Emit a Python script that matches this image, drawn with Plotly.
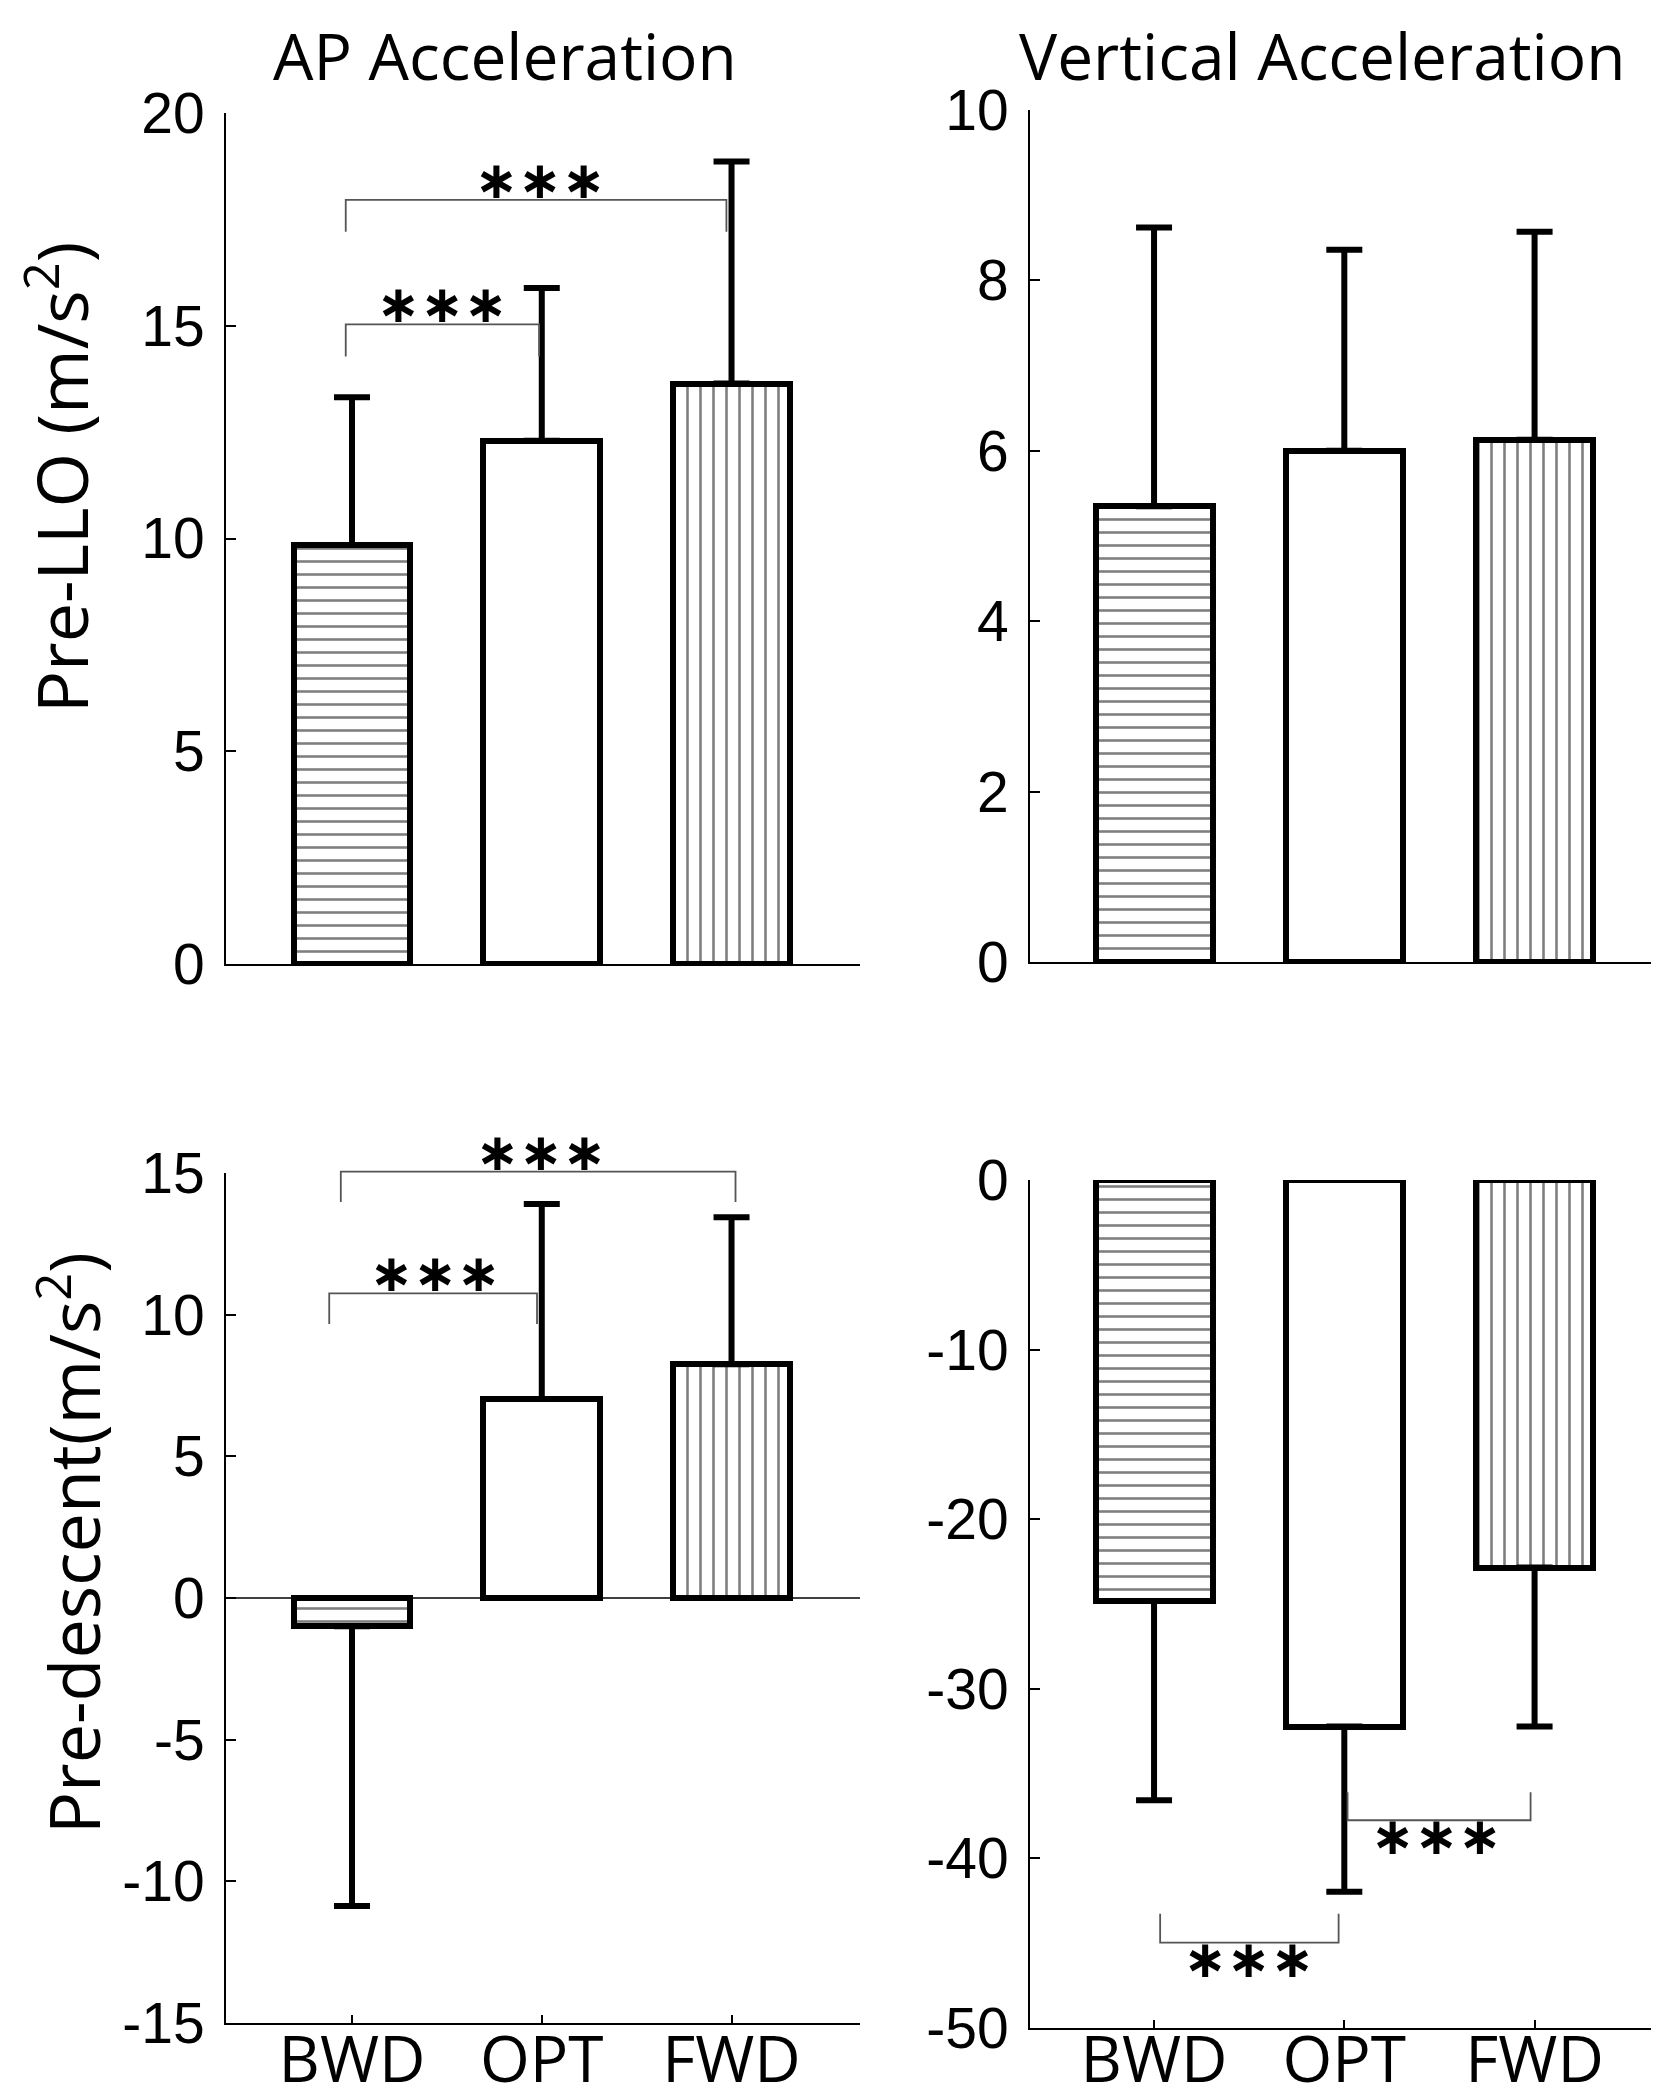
import plotly.graph_objects as go
from plotly.subplots import make_subplots

# ---------------- data ----------------
categories = ["BWD", "OPT", "FWD"]
cat_pos = [1, 2, 3]

ap_llo_mean = [9.85, 12.30, 13.64]
ap_llo_sd = [3.47, 3.59, 5.22]

vert_llo_mean = [5.35, 6.00, 6.13]
vert_llo_sd = [3.27, 2.36, 2.44]

ap_desc_mean = [-1.00, 7.02, 8.25]
ap_desc_sd = [9.87, 6.89, 5.19]

vert_desc_mean = [-24.82, -32.23, -22.85]
vert_desc_sd = [11.75, 9.74, 9.38]

# significance brackets: (x_start, x_end, line_y, left_drop_y, right_drop_y, star_x, star_y)
ap_llo_brackets = [
    (0.967, 2.973, 17.96, 17.21, 17.21, 1.99, 18.30),
    (0.967, 1.986, 15.03, 14.28, 14.28, 1.474, 15.40),
]
ap_desc_brackets = [
    (0.941, 3.021, 15.05, 13.98, 13.98, 1.995, 15.55),
    (0.880, 1.975, 10.75, 9.67, 9.67, 1.437, 11.30),
]
vert_desc_brackets = [
    (2.017, 2.979, -37.75, -36.1, -36.1, 2.483, -38.95),
    (1.032, 1.970, -44.97, -43.27, -43.27, 1.497, -46.2),
]
vert_llo_brackets = []

# y tick values per panel
ap_llo_ticks = [0, 5, 10, 15, 20]
vert_llo_ticks = [0, 2, 4, 6, 8, 10]
ap_desc_ticks = [-15, -10, -5, 0, 5, 10, 15]
vert_desc_ticks = [-50, -40, -30, -20, -10, 0]

star_text = "\u2217\u2217\u2217"
patterns = ["-", "", "|"]

W, H = 1659, 2100
xl = [218 / W, 852 / W]
xr = [1022 / W, 1.0]
xrange_l = [0.336, 3.677]
xrange_r = [0.348, 3.696]

panels = [
    # row, col, means, sds, brackets, xdomain, xrange, ydomain, yrange, ticks, label standoff
    (1, 1, ap_llo_mean, ap_llo_sd, ap_llo_brackets, xl, xrange_l,
     [1 - 956 / H, 1 - 105 / H], [0, 20], ap_llo_ticks, 0),
    (1, 2, vert_llo_mean, vert_llo_sd, vert_llo_brackets, xr, xrange_r,
     [1 - 954 / H, 1 - 102 / H], [0, 10], vert_llo_ticks, 0),
    (2, 1, ap_desc_mean, ap_desc_sd, ap_desc_brackets, xl, xrange_l,
     [1 - 2015 / H, 1 - 1165 / H], [-15, 15], ap_desc_ticks, -20),
    (2, 2, vert_desc_mean, vert_desc_sd, vert_desc_brackets, xr, xrange_r,
     [1 - 2020 / H, 1 - 1172 / H], [-50, 0], vert_desc_ticks, -25),
]

fig = make_subplots(rows=2, cols=2)

tickfont = dict(family="Liberation Sans, Arial", size=57, color="black")
catfont = dict(family="Open Sans", size=64, color="black")

layout_axes = {}
EXTRA = 70  # px of unclipped room for the significance brackets

for i, (r, c, means, sds, brackets, xdom, xrng, ydom, yrng, yt, lstand) in enumerate(panels):
    k = i + 1
    sfx = "" if k == 1 else str(k)
    up = [s if m >= 0 else 0 for m, s in zip(means, sds)]
    down = [s if m < 0 else 0 for m, s in zip(means, sds)]
    fig.add_trace(go.Bar(
        x=cat_pos, y=means, width=0.615,
        marker=dict(color="white",
                    line=dict(color="black", width=6),
                    pattern=dict(shape=patterns, size=13, solidity=0.2,
                                 fgcolor="#000000", bgcolor="white")),
        error_y=dict(type="data", symmetric=False, array=up, arrayminus=down,
                     color="black", thickness=6, width=18),
        showlegend=False, hoverinfo="skip"), row=r, col=c)

    ax = dict(domain=xdom, range=xrng, anchor=f"y{sfx}", showline=True,
              linecolor="black", linewidth=2,
              showgrid=False, zeroline=False, automargin=False)
    if r == 2:
        ax.update(tickvals=cat_pos, ticktext=categories, ticks="inside", ticklen=8,
                  tickwidth=2, tickcolor="black", tickfont=catfont,
                  ticklabelstandoff=lstand)
    else:
        ax.update(showticklabels=False, ticks="")
    layout_axes[f"xaxis{sfx}"] = ax
    layout_axes[f"yaxis{sfx}"] = dict(
        domain=ydom, range=yrng, anchor=f"x{sfx}", tickvals=yt,
        ticktext=[str(t) for t in yt],
        showline=True, linecolor="black", linewidth=2,
        ticks="inside", ticklen=10, tickwidth=2, tickcolor="black",
        showgrid=False, zeroline=False, tickfont=tickfont,
        ticklabelstandoff=8, automargin=False)

    # hidden companion axes with the same scale but extra room, for brackets
    kk = k + 4
    ppu = (ydom[1] - ydom[0]) * H / (yrng[1] - yrng[0])
    ydom2 = [ydom[0] - EXTRA / H, ydom[1] + EXTRA / H]
    yrng2 = [yrng[0] - EXTRA / ppu, yrng[1] + EXTRA / ppu]
    layout_axes[f"xaxis{kk}"] = dict(domain=xdom, range=xrng, visible=False,
                                     anchor=f"y{kk}", automargin=False)
    layout_axes[f"yaxis{kk}"] = dict(domain=ydom2, range=yrng2, visible=False,
                                     anchor=f"x{kk}", automargin=False)
    for (x1, x2, y, d1, d2, sx, sy) in brackets:
        fig.add_trace(go.Scatter(
            x=[x1, x1, x2, x2], y=[d1, y, y, d2], mode="lines",
            xaxis=f"x{kk}", yaxis=f"y{kk}",
            line=dict(color="#555555", width=1.8),
            showlegend=False, hoverinfo="skip"))
        fig.add_trace(go.Scatter(
            x=[sx], y=[sy], mode="text", text=[star_text],
            xaxis=f"x{kk}", yaxis=f"y{kk}",
            textfont=dict(family="DejaVu Sans", size=52, color="black", weight="bold"),
            textposition="middle center",
            showlegend=False, hoverinfo="skip"))

fig.update_layout(
    width=W, height=H,
    margin=dict(l=0, r=0, t=0, b=0, autoexpand=False),
    plot_bgcolor="rgba(0,0,0,0)", paper_bgcolor="white",
    bargap=0,
    **layout_axes,
)

# zero line in the lower-left panel
fig.add_shape(type="line", xref="x3 domain", yref="y3", x0=0, x1=1, y0=0, y1=0,
              line=dict(color="black", width=1.5))

titlefont = dict(family="Open Sans", size=64, color="black")
ytitlefont = dict(family="Open Sans", size=70, color="black")
fig.add_annotation(text="AP Acceleration", x=497 / W, y=1 - 2 / H, xref="paper", yref="paper",
                   showarrow=False, font=titlefont, xanchor="center", yanchor="top")
fig.add_annotation(text="Vertical Acceleration", x=1314 / W, y=1 - 2 / H, xref="paper", yref="paper",
                   showarrow=False, font=titlefont, xanchor="center", yanchor="top")
fig.add_annotation(text="Pre-LLO (m/s<sup>2</sup>)", x=50 / W, y=1 - 470 / H, xref="paper", yref="paper",
                   showarrow=False, font=ytitlefont, textangle=-90, xanchor="center", yanchor="middle")
fig.add_annotation(text="Pre-descent(m/s<sup>2</sup>)", x=62 / W, y=1 - 1535 / H, xref="paper", yref="paper",
                   showarrow=False, font=ytitlefont, textangle=-90, xanchor="center", yanchor="middle")

fig.write_html("out.html")
